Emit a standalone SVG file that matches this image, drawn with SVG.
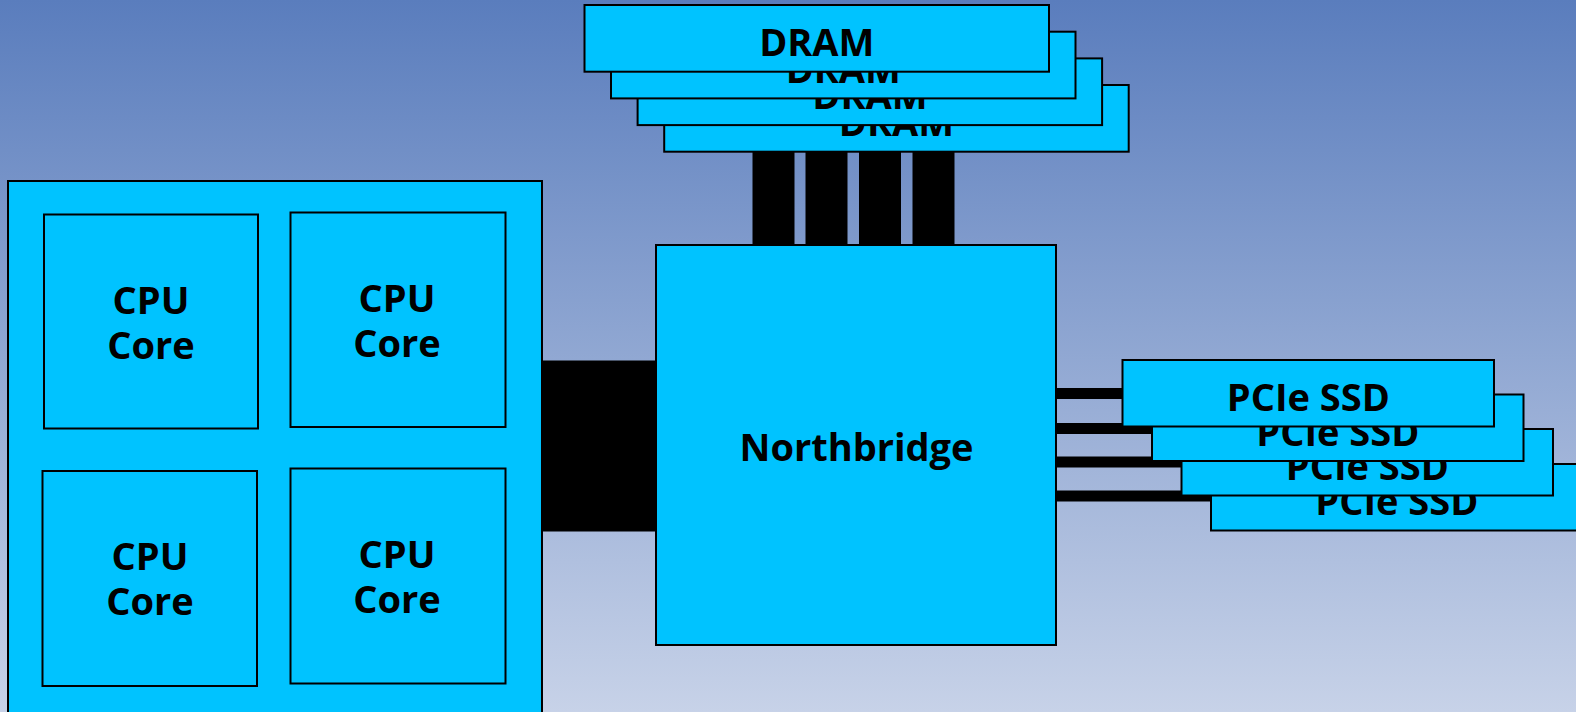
<svg xmlns="http://www.w3.org/2000/svg" width="1576" height="712" viewBox="0 0 1576 712">
<style>
.box{fill:#00c3ff;stroke:#000;stroke-width:2}
.bus{fill:#000;stroke:#000;stroke-width:1}
.lbl{font-family:"Open Sans","Noto Sans","DejaVu Sans",sans-serif;font-weight:bold;font-size:38px;fill:#000;text-anchor:middle}
</style>
<defs>
<linearGradient id="bg" x1="0" y1="0" x2="0" y2="1">
<stop offset="0" stop-color="#5a7dbd"/>
<stop offset="1" stop-color="#c7d2e8"/>
</linearGradient>
</defs>
<rect x="0" y="0" width="1576" height="712" fill="url(#bg)"/>
<g id="connectors">
<rect class="bus" x="540" y="361" width="118" height="170"/>
<rect class="bus" x="753" y="150" width="41" height="97"/>
<rect class="bus" x="806" y="150" width="41" height="97"/>
<rect class="bus" x="859.5" y="150" width="41" height="97"/>
<rect class="bus" x="913" y="150" width="41" height="97"/>
<rect class="bus" x="1054" y="388.5" width="72" height="10"/>
<rect class="bus" x="1054" y="423.5" width="102" height="10"/>
<rect class="bus" x="1054" y="457" width="132" height="10"/>
<rect class="bus" x="1054" y="491" width="160" height="10"/>
</g>
<g id="cpu">
<rect class="box" x="8" y="181" width="534" height="545"/>
</g>
<g id="core1">
<rect class="box" x="44" y="214.5" width="214" height="214"/>
<text class="lbl" x="151" y="314">CPU</text>
<text class="lbl" x="151" y="359">Core</text>
</g>
<g id="core2">
<rect class="box" x="290.5" y="212.5" width="215" height="214.5"/>
<text class="lbl" x="397" y="311.5">CPU</text>
<text class="lbl" x="397" y="356.5">Core</text>
</g>
<g id="core3">
<rect class="box" x="42.5" y="471" width="214.5" height="215"/>
<text class="lbl" x="150" y="570">CPU</text>
<text class="lbl" x="150" y="615">Core</text>
</g>
<g id="core4">
<rect class="box" x="290.5" y="468.5" width="215" height="215"/>
<text class="lbl" x="397" y="567.5">CPU</text>
<text class="lbl" x="397" y="612.5">Core</text>
</g>
<g id="northbridge">
<rect class="box" x="656" y="245" width="400" height="400"/>
<text class="lbl" x="856.5" y="461">Northbridge</text>
</g>
<g id="dram4">
<rect class="box" x="664.2" y="85" width="464.5" height="66.7"/>
<text class="lbl" x="896.5" y="136">DRAM</text>
</g>
<g id="dram3">
<rect class="box" x="637.6" y="58.4" width="464.5" height="66.7"/>
<text class="lbl" x="870" y="109.4">DRAM</text>
</g>
<g id="dram2">
<rect class="box" x="611" y="31.7" width="464.5" height="66.7"/>
<text class="lbl" x="843.3" y="82.7">DRAM</text>
</g>
<g id="dram1">
<rect class="box" x="584.5" y="5" width="464.5" height="66.7"/>
<text class="lbl" x="816.8" y="56">DRAM</text>
</g>
<g id="ssd4">
<rect class="box" x="1211" y="464" width="371.5" height="66.5"/>
<text class="lbl" x="1396.8" y="515">PCIe SSD</text>
</g>
<g id="ssd3">
<rect class="box" x="1181.5" y="429" width="371.5" height="66.5"/>
<text class="lbl" x="1367.3" y="480">PCIe SSD</text>
</g>
<g id="ssd2">
<rect class="box" x="1152" y="394.5" width="371.5" height="66.5"/>
<text class="lbl" x="1337.8" y="445.5">PCIe SSD</text>
</g>
<g id="ssd1">
<rect class="box" x="1122.5" y="360" width="371.5" height="66.5"/>
<text class="lbl" x="1308.3" y="411">PCIe SSD</text>
</g>
</svg>
